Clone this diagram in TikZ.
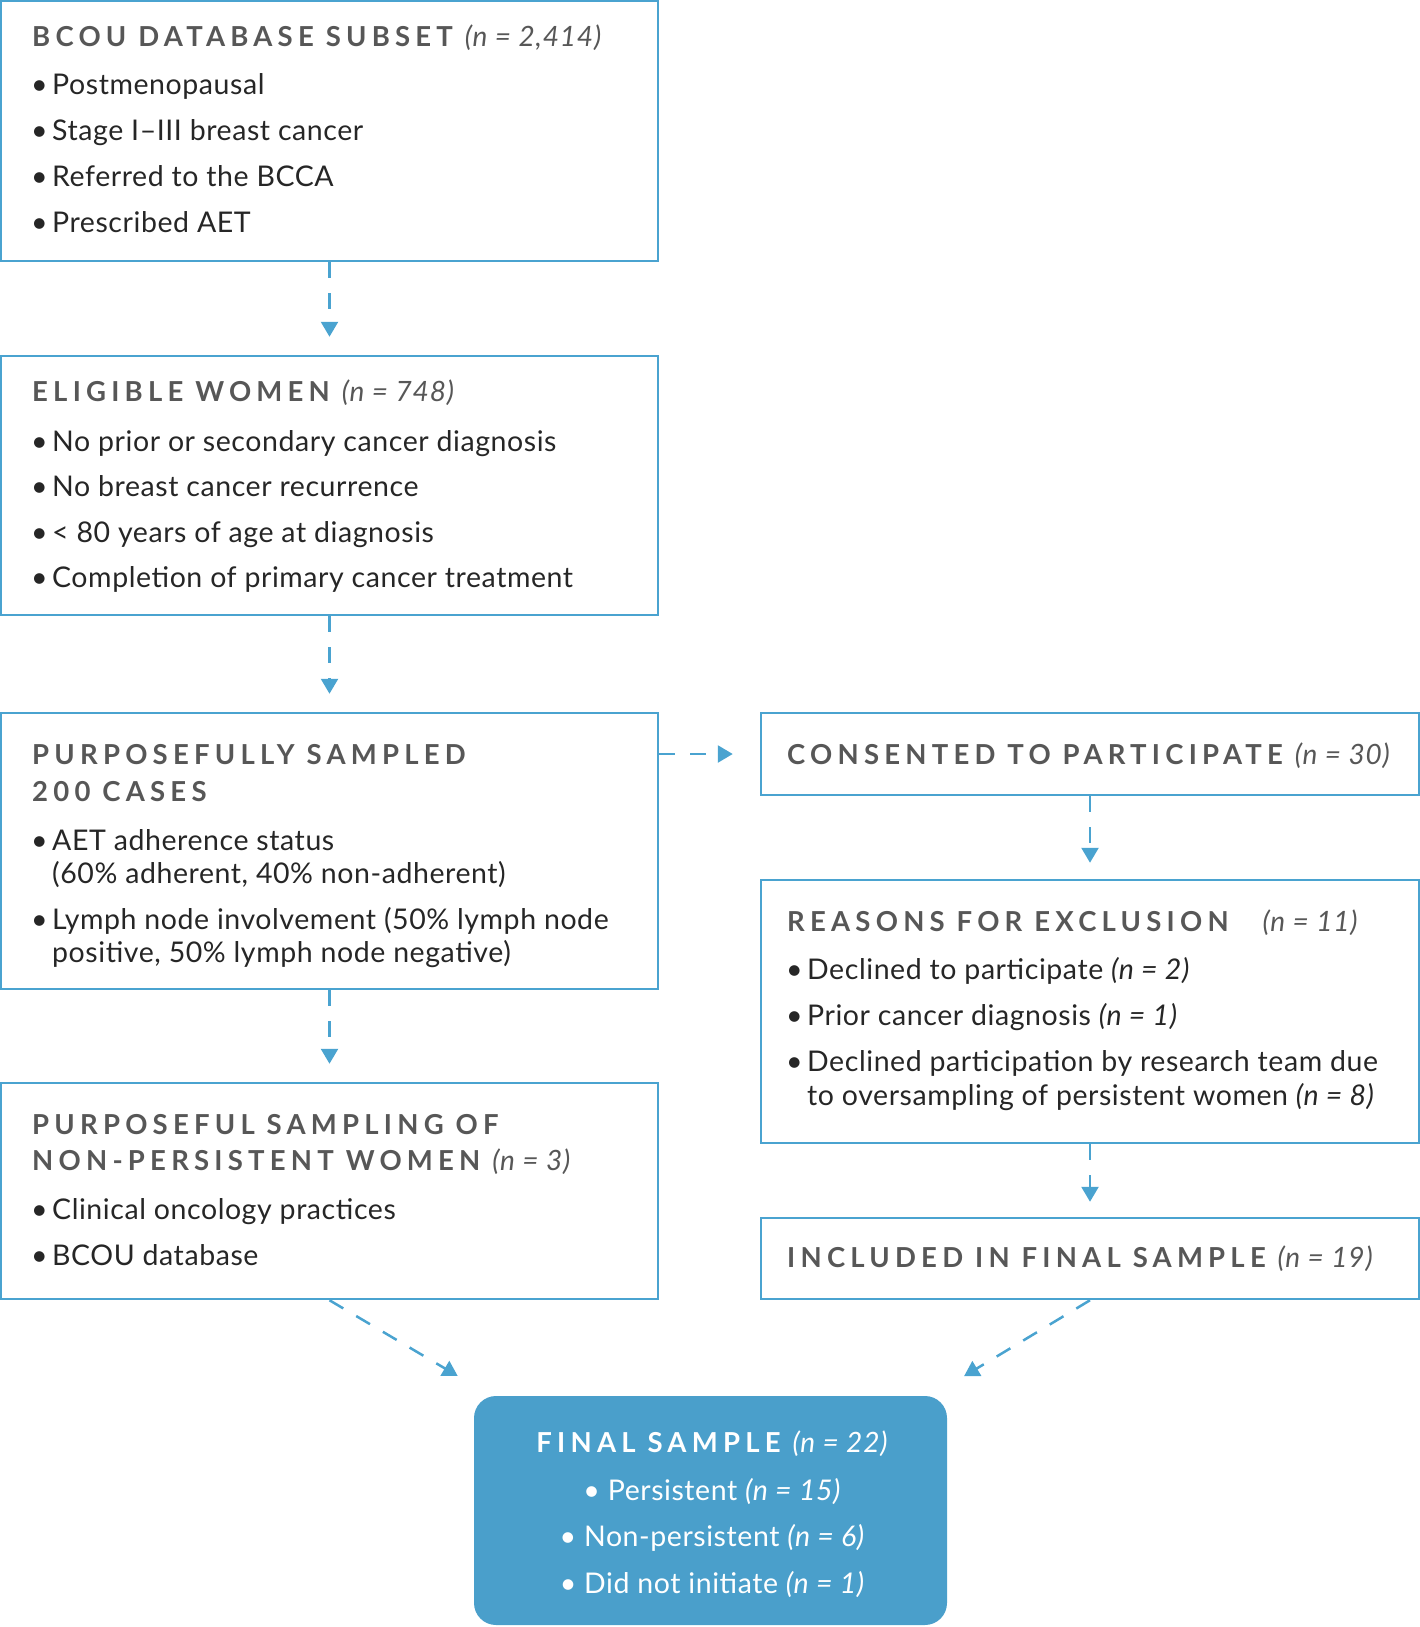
\documentclass[tikz,border=0pt]{standalone}
\usepackage{fontspec}
\setmainfont{Lato}[LetterSpace=2]
\usetikzlibrary{arrows.meta,calc}
\definecolor{lineblue}{HTML}{4AA3D0}
\definecolor{fillblue}{HTML}{4A9FCB}
\definecolor{headgray}{HTML}{575757}
\definecolor{bodytext}{HTML}{262626}
\newcommand{\hd}[1]{{\bfseries\addfontfeatures{LetterSpace=19}#1}}
\newcommand{\hn}[1]{{\fontsize{28}{30}\selectfont\itshape\addfontfeatures{LetterSpace=3}(#1)}}
\newcommand{\nn}[1]{{\itshape(#1)}}
\newcommand{\bul}{\makebox[21pt][l]{•}}
\begin{document}
\begin{tikzpicture}[x=1pt,y=-1pt,
  box/.style={draw=lineblue, line width=2.5pt, minimum width=657pt, inner sep=0pt},
  finbox/.style={fill=fillblue, rounded corners=22pt, minimum width=473pt, minimum height=229pt, inner sep=0pt},
  hdr/.style={anchor=base west, inner sep=0pt, font=\fontsize{27.5}{30}\selectfont, text=headgray},
  item/.style={anchor=base west, inner sep=0pt, font=\fontsize{28.5}{33}\selectfont, text=bodytext},
  finhdr/.style={anchor=base, inner sep=0pt, font=\fontsize{27.5}{30}\selectfont, text=white},
  finitem/.style={anchor=base, inner sep=0pt, font=\fontsize{28.5}{33}\selectfont, text=white},
  conn/.style={draw=lineblue, line width=2.5pt, dash pattern=on 16pt off 15pt, -{Triangle[width=17pt,length=15pt]}}
]
\useasboundingbox (0,0) rectangle (1420,1627);

% boxes
\node[box, minimum height=260pt] (b1) at (329.5,131) {};
\node[box, minimum height=259pt] (b2) at (329.5,485.5) {};
\node[box, minimum height=276pt] (b3) at (329.5,851) {};
\node[box, minimum height=216pt] (b4) at (329.5,1191) {};
\node[box, minimum width=658pt, minimum height=82pt] (ra) at (1090,754) {};
\node[box, minimum width=658pt, minimum height=263pt] (rb) at (1090,1011.5) {};
\node[box, minimum width=658pt, minimum height=81pt] (rc) at (1090,1258.5) {};
\node[finbox] (fin) at (710.5,1510.5) {};

% box 1
\node[hdr] (h1) at (32,47) {\hd{BCOU DATABASE SUBSET}\hspace{12pt}\hn{n = 2,414}};
\node[item] (b1i1) at (31,95) {\bul Postmenopausal};
\node[item] (b1i2) at (31,140.7) {\bul Stage I–III breast cancer};
\node[item] (b1i3) at (31,186.3) {\bul Referred to the BCCA};
\node[item] (b1i4) at (31,232) {\bul Prescribed AET};

% box 2
\node[hdr] (h2) at (32,401.5) {\hd{ELIGIBLE WOMEN}\hspace{12pt}\hn{n = 748}};
\node[item] (b2i1) at (31,451) {\bul No prior or secondary cancer diagnosis};
\node[item] (b2i2) at (31,496.5) {\bul No breast cancer recurrence};
\node[item] (b2i3) at (31,542) {\bul < 80 years of age at diagnosis};
\node[item] (b2i4) at (31,587.7) {\bul Completion of primary cancer treatment};

% box 3
\node[hdr] (h3a) at (32,764.5) {\hd{PURPOSEFULLY SAMPLED}};
\node[hdr] (h3b) at (32,801) {\hd{200 CASES}};
\node[item] (b3i1) at (31,850) {\bul AET adherence status};
\node[item] (b3i1b) at (52,883.4) {(60\% adherent, 40\% non-adherent)};
\node[item] (b3i2) at (31,929) {\bul Lymph node involvement (50\% lymph node};
\node[item] (b3i2b) at (52,962) {positive, 50\% lymph node negative)};

% box 4
\node[hdr] (h4a) at (32,1134) {\hd{PURPOSEFUL SAMPLING OF}};
\node[hdr] (h4b) at (32,1170) {\hd{NON-PERSISTENT WOMEN}\hspace{12pt}\hn{n = 3}};
\node[item] (b4i1) at (31,1219.5) {\bul Clinical oncology practices};
\node[item] (b4i2) at (31,1265) {\bul BCOU database};

% right column
\node[hdr] (hra) at (787,764.5) {\hd{CONSENTED TO PARTICIPATE}\hspace{12pt}\hn{n = 30}};
\node[hdr] (hrb) at (787,931.5) {\hd{REASONS FOR EXCLUSION}\hspace{34pt}\hn{n = 11}};
\node[item] (rbi1) at (786,979.5) {\bul Declined to participate \nn{n = 2}};
\node[item] (rbi2) at (786,1025.5) {\bul Prior cancer diagnosis \nn{n = 1}};
\node[item] (rbi3) at (786,1071.5) {\bul Declined participation by research team due};
\node[item] (rbi3b) at (807,1105) {to oversampling of persistent women \nn{n = 8}};
\node[hdr] (hrc) at (787,1267.5) {\hd{INCLUDED IN FINAL SAMPLE}\hspace{12pt}\hn{n = 19}};

% final
\node[finhdr] (hf) at (712,1452.5) {\hd{FINAL SAMPLE}\hspace{12pt}\hn{n = 22}};
\node[finitem] (fi1) at (712,1500.5) {• Persistent \nn{n = 15}};
\node[finitem] (fi2) at (712,1546) {• Non-persistent \nn{n = 6}};
\node[finitem] (fi3) at (712,1593) {• Did not initiate \nn{n = 1}};

% connectors
\draw[conn, shorten >=18pt] (b1.south) -- (b2.north);
\draw[conn, shorten >=18pt] (b2.south) -- (b3.north);
\draw[conn, shorten >=18pt] (b3.south) -- (b4.north);
\draw[conn, shorten >=27pt] (b3.east |- ra.west) -- (ra.west);
\draw[conn, shorten >=16pt] (ra.south) -- (rb.north);
\draw[conn, shorten >=15pt] (rb.south) -- (rc.north);
\coordinate (finL) at ($(fin.north west)+(17.5,0)$);
\coordinate (finR) at ($(fin.north east)+(-15.7,0)$);
\draw[conn, shorten >=39pt] (b4.south) -- (finL);
\draw[conn, shorten >=38pt] (rc.south) -- (finR);
\end{tikzpicture}
\end{document}
